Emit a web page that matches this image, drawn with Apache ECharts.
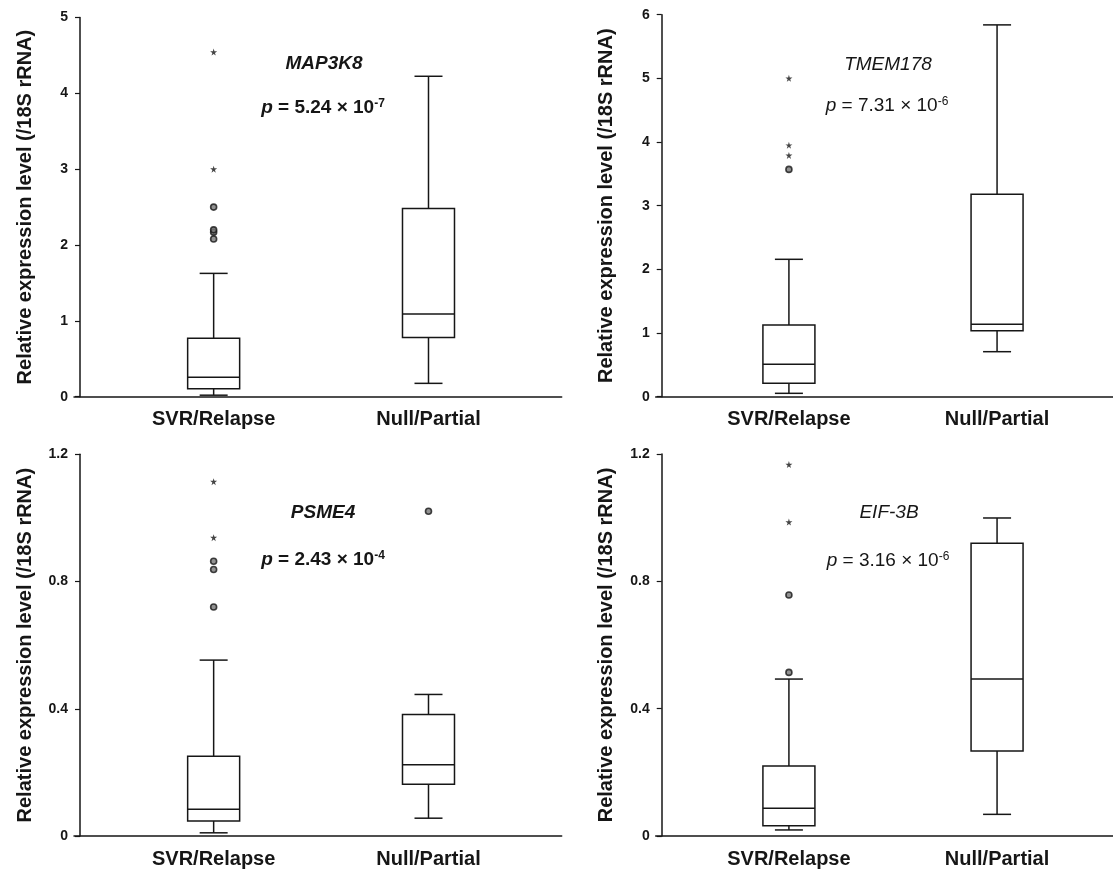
<!DOCTYPE html>
<html>
<head>
<meta charset="utf-8">
<script src="https://cdn.jsdelivr.net/npm/echarts@6.0.0/dist/echarts.min.js"></script>
<style>html,body{margin:0;padding:0;background:#fff}#c{width:1113px;height:869px}</style>
</head>
<body>
<div id="c"></div>
<script>
// ---------- data ----------
const categories = ['SVR/Relapse', 'Null/Partial'];
const genes = ['MAP3K8', 'TMEM178', 'PSME4', 'EIF-3B'];
const pMantissa = ['5.24', '7.31', '2.43', '3.16'];
const pExponent = ['-7', '-6', '-4', '-6'];
const yMax = [5, 6, 1.2, 1.2];
const yInterval = [1, 1, 0.4, 0.4];
const yTitle = 'Relative expression level (/18S rRNA)';

// box statistics per group: [min, Q1, median, Q3, max]
const map3k8Box = [[0.02, 0.105, 0.255, 0.77, 1.626], [0.176, 0.78, 1.09, 2.48, 4.225]];
const tmem178Box = [[0.053, 0.21, 0.509, 1.126, 2.158], [0.707, 1.037, 1.137, 3.18, 5.84]];
const psme4Box = [[0.010, 0.047, 0.084, 0.251, 0.553], [0.056, 0.163, 0.224, 0.382, 0.445]];
const eif3bBox = [[0.019, 0.032, 0.087, 0.22, 0.493], [0.068, 0.267, 0.493, 0.920, 0.999]];

// outliers: [group index, value]
const map3k8Circles = [[0, 2.08], [0, 2.17], [0, 2.20], [0, 2.50]];
const map3k8Stars = [[0, 3.0], [0, 4.545]];
const tmem178Circles = [[0, 3.57]];
const tmem178Stars = [[0, 3.79], [0, 3.95], [0, 5.0]];
const psme4Circles = [[0, 0.720], [0, 0.838], [0, 0.864], [1, 1.021]];
const psme4Stars = [[0, 0.938], [0, 1.114]];
const eif3bCircles = [[0, 0.514], [0, 0.757]];
const eif3bStars = [[0, 0.986], [0, 1.167]];

const boxes = [map3k8Box, tmem178Box, psme4Box, eif3bBox];
const circles = [map3k8Circles, tmem178Circles, psme4Circles, eif3bCircles];
const stars = [map3k8Stars, tmem178Stars, psme4Stars, eif3bStars];

// ---------- layout / style ----------
const INK = '#161616';
const FONT = "'Liberation Sans', Arial, sans-serif";
const grids = [
  {left: 74, top: 17.5, width: 487.7, height: 379.2},
  {left: 655.7, top: 14.7, width: 457.3, height: 382},
  {left: 74, top: 454.3, width: 487.7, height: 381.7},
  {left: 655.7, top: 454, width: 457.3, height: 382}
];
const xMins = [-0.65, -0.64, -0.65, -0.64];
const xMaxs = [1.62, 1.557, 1.62, 1.557];
const pBold = ['bold', 'normal', 'bold', 'normal'];
const annPos = [
  {gx: 324, gy: 64, px: 323, py: 108},
  {gx: 888, gy: 65, px: 887, py: 106},
  {gx: 323, gy: 513, px: 323, py: 560},
  {gx: 889, gy: 513, px: 888, py: 561}
];

const STAR = 'path://M50,0L61,35L98,35L68,57L79,91L50,70L21,91L32,57L2,35L39,35Z';

function renderBox(params, api) {
  const x = api.value(0);
  const pMin = api.coord([x, api.value(1)]);
  const pQ1 = api.coord([x, api.value(2)]);
  const pMed = api.coord([x, api.value(3)]);
  const pQ3 = api.coord([x, api.value(4)]);
  const pMax = api.coord([x, api.value(5)]);
  const cx = pMin[0];
  const hw = 26, cw = 14;
  const ls = {stroke: INK, lineWidth: 1.5, fill: null};
  return {
    type: 'group',
    children: [
      {type: 'line', shape: {x1: cx, y1: pQ3[1], x2: cx, y2: pMax[1]}, style: ls},
      {type: 'line', shape: {x1: cx - cw, y1: pMax[1], x2: cx + cw, y2: pMax[1]}, style: ls},
      {type: 'line', shape: {x1: cx, y1: pQ1[1], x2: cx, y2: pMin[1]}, style: ls},
      {type: 'line', shape: {x1: cx - cw, y1: pMin[1], x2: cx + cw, y2: pMin[1]}, style: ls},
      {type: 'rect', shape: {x: cx - hw, y: pQ3[1], width: hw * 2, height: pQ1[1] - pQ3[1]},
        style: {stroke: INK, lineWidth: 1.5, fill: '#fff'}},
      {type: 'line', shape: {x1: cx - hw, y1: pMed[1], x2: cx + hw, y2: pMed[1]}, style: ls}
    ]
  };
}

const option = {
  backgroundColor: '#fff',
  animation: false,
  grid: grids.map(g => Object.assign({outerBoundsMode: 'none', containLabel: false}, g)),
  xAxis: grids.map((g, i) => ({
    gridIndex: i, type: 'value', min: xMins[i], max: xMaxs[i], splitNumber: 2,
    axisLine: {show: true, onZero: false, lineStyle: {color: INK, width: 1.5}},
    axisTick: {show: false}, splitLine: {show: false},
    axisLabel: {
      margin: 13, fontSize: 20, fontWeight: 'bold', color: INK, fontFamily: FONT,
      showMinLabel: false, showMaxLabel: false,
      formatter: v => {
        const r = Math.round(v);
        return (Math.abs(v - r) < 1e-6 && categories[r] !== undefined) ? categories[r] : '';
      }
    }
  })),
  yAxis: grids.map((g, i) => ({
    gridIndex: i, type: 'value', min: 0, max: yMax[i], interval: yInterval[i],
    offset: -6,
    name: yTitle, nameLocation: 'middle', nameGap: 45, nameMoveOverlap: false,
    nameTextStyle: {fontSize: 20, fontWeight: 'bold', color: INK, fontFamily: FONT},
    axisLine: {show: true, onZero: false, lineStyle: {color: INK, width: 1.5}},
    axisTick: {show: true, length: 5, lineStyle: {color: INK, width: 1.2}},
    splitLine: {show: false},
    axisLabel: {margin: 12, fontSize: 14, fontWeight: 'bold', color: INK, fontFamily: FONT}
  })),
  series: [],
  graphic: []
};

for (let i = 0; i < 4; i++) {
  option.series.push({
    type: 'custom', xAxisIndex: i, yAxisIndex: i,
    renderItem: renderBox,
    encode: {x: 0, y: [1, 2, 3, 4, 5]},
    data: boxes[i].map((b, k) => [k].concat(b)),
    z: 2
  });
  option.series.push({
    type: 'scatter', xAxisIndex: i, yAxisIndex: i,
    symbol: 'circle', symbolSize: 6,
    itemStyle: {color: '#777', borderColor: INK, borderWidth: 1.6},
    data: circles[i], z: 3
  });
  option.series.push({
    type: 'scatter', xAxisIndex: i, yAxisIndex: i,
    symbol: STAR, symbolSize: 7,
    itemStyle: {color: INK},
    data: stars[i], z: 3
  });
  const a = annPos[i];
  option.graphic.push({
    type: 'text', x: a.gx, y: a.gy,
    style: {text: genes[i], fill: INK, align: 'center', verticalAlign: 'middle',
      font: `italic ${pBold[i]} 19px ${FONT}`}
  });
  option.graphic.push({
    type: 'text', x: a.px, y: a.py,
    style: {
      text: `{i|p} = ${pMantissa[i]} × 10{s|${pExponent[i]}}`,
      fill: INK, align: 'center', verticalAlign: 'middle',
      font: `${pBold[i]} 19px ${FONT}`,
      rich: {
        i: {fontStyle: 'italic', fontWeight: pBold[i], fontSize: 19, fontFamily: FONT, fill: INK},
        s: {fontSize: 12, fontWeight: pBold[i], fontFamily: FONT, fill: INK, verticalAlign: 'top', padding: [0, 0, 9, 0]}
      }
    }
  });
}

const chart = echarts.init(document.getElementById('c'), null, {renderer: 'canvas'});
chart.setOption(option);
</script>
</body>
</html>
